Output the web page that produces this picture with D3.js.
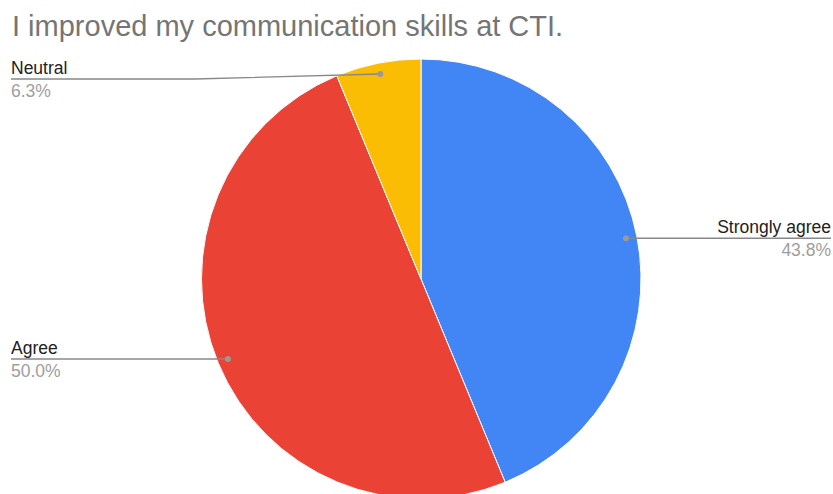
<!DOCTYPE html>
<html>
<head>
<meta charset="utf-8">
<script src="https://cdn.jsdelivr.net/npm/d3@7"></script>
<style>
  body { margin: 0; background: #fff; }
  svg { display: block; font-family: "Liberation Sans", Arial, sans-serif; }
</style>
</head>
<body>
<div class="chart"></div>
<script>
// chart data
const title = "I improved my communication skills at CTI.";
const categories = ["Strongly agree", "Agree", "Neutral"];
const counts = [7, 8, 1];
const pctLabels = ["43.8%", "50.0%", "6.3%"];
const colors = ["#4285F4", "#EA4335", "#FBBC04"];

let width = 833, height = 494;
let cx = 421, cy = 279, radius = 220;

let svg = d3.select(".chart").append("svg")
    .attr("width", width)
    .attr("height", height);

svg.append("text")
    .attr("x", 12)
    .attr("y", 36)
    .attr("fill", "#757575")
    .style("font-size", "29px")
    .text(title);

let data = categories.map(function (c, i) {
    return { name: c, value: counts[i], pct: pctLabels[i], color: colors[i] };
});

let pie = d3.pie()
    .sort(null)
    .value(function (d) { return d.value; });

let arc = d3.arc().innerRadius(0).outerRadius(radius);
let dotArc = d3.arc().innerRadius(radius * 0.95).outerRadius(radius * 0.95);

let arcs = pie(data);

let g = svg.append("g")
    .attr("transform", "translate(" + cx + "," + cy + ")");

g.selectAll("path.slice")
    .data(arcs)
    .enter().append("path")
    .attr("class", "slice")
    .attr("d", arc)
    .attr("fill", function (d) { return d.data.color; })
    .attr("stroke", "#fff")
    .attr("stroke-width", 1);

// leader lines + labels
arcs.forEach(function (d) {
    let p = dotArc.centroid(d);
    let px = cx + p[0], py = cy + p[1];
    let right = p[0] > 0;
    let lineY = py;
    let pts;
    if (d.data.name === "Neutral") {
        lineY = py + 5;
        pts = [[px, py], [195, lineY], [11, lineY]];
    } else if (right) {
        pts = [[px, py], [831, py]];
    } else {
        pts = [[px, py], [11, py]];
    }

    svg.append("path")
        .attr("d", d3.line()(pts))
        .attr("fill", "none")
        .attr("stroke", "#888")
        .attr("stroke-width", 1.3);

    svg.append("circle")
        .attr("cx", px)
        .attr("cy", py)
        .attr("r", 3)
        .attr("fill", "#999");

    let tx = right ? 831 : 11;
    let anchor = right ? "end" : "start";

    svg.append("text")
        .attr("x", tx)
        .attr("y", lineY - 5)
        .attr("text-anchor", anchor)
        .attr("fill", "#222")
        .style("font-size", "17.5px")
        .text(d.data.name);

    svg.append("text")
        .attr("x", tx)
        .attr("y", lineY + 18)
        .attr("text-anchor", anchor)
        .attr("fill", "#9e9e9e")
        .style("font-size", "17.5px")
        .text(d.data.pct);
});
</script>
</body>
</html>
